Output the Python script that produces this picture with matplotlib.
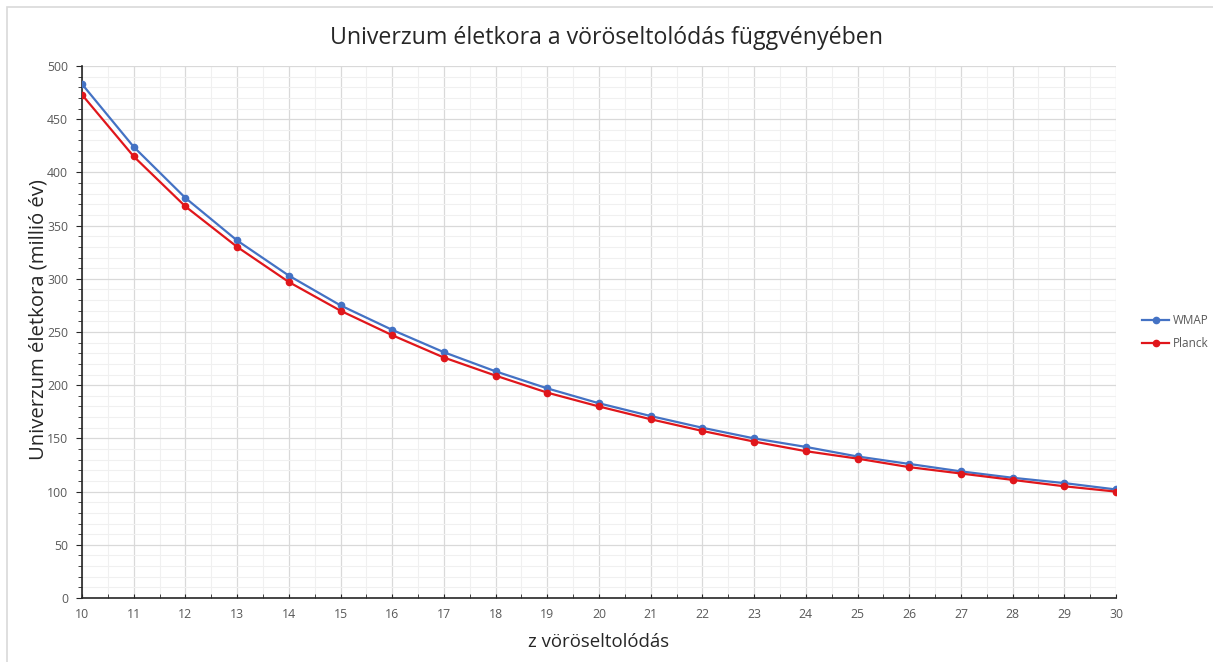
import matplotlib
matplotlib.use("Agg")
import matplotlib.pyplot as plt
from matplotlib.ticker import MultipleLocator
from matplotlib.patches import Rectangle

z = list(range(10, 31))
wmap = [483, 424, 376, 336, 303, 275, 252, 231, 213, 197, 183, 171, 160, 150, 142, 133, 126, 119, 113, 108, 102]
planck = [473, 415, 368, 330, 297, 270, 247, 226, 209, 193, 180, 168, 157, 147, 138, 131, 123, 117, 111, 105, 100]

title = "Univerzum életkora a vöröseltolódás függvényében"
xlabel = "z vöröseltolódás"
ylabel = "Univerzum életkora (millió év)"

plt.rcParams['font.family'] = ['Open Sans', 'DejaVu Sans']

W, H = 1213, 662
fig = plt.figure(figsize=(W / 100, H / 100), dpi=100)
fig.patch.set_facecolor('white')

# outer border
fig.patches.append(Rectangle((7 / W, -0.05), 1.1, 1 - 7 / H + 0.05, transform=fig.transFigure,
                             fill=False, edgecolor='#d9d9d9', linewidth=1.2))

ax = fig.add_axes([82 / W, 1 - 598 / H, (1116 - 82) / W, (598 - 66) / H])

blue = '#4472C4'
red = '#E0161B'
ax.plot(z, wmap, color=blue, marker='o', markersize=4.5, linewidth=1.6, label='WMAP', zorder=3)
ax.plot(z, planck, color=red, marker='o', markersize=4.5, linewidth=1.6, label='Planck', zorder=3)

ax.set_xlim(10, 30)
ax.set_ylim(0, 500)
ax.xaxis.set_major_locator(MultipleLocator(1))
ax.xaxis.set_minor_locator(MultipleLocator(0.5))
ax.yaxis.set_major_locator(MultipleLocator(50))
ax.yaxis.set_minor_locator(MultipleLocator(10))

ax.grid(which='major', color='#d9d9d9', linewidth=0.9)
ax.grid(which='minor', color='#f0f0f0', linewidth=0.8)
ax.set_axisbelow(True)

for s in ['top', 'right']:
    ax.spines[s].set_visible(False)
for s in ['left', 'bottom']:
    ax.spines[s].set_color('#262626')
    ax.spines[s].set_linewidth(1.2)

ax.tick_params(axis='x', which='both', direction='in', length=3, color='#262626',
               labelsize=8.8, labelcolor='#595959', pad=7)
ax.tick_params(axis='y', which='major', direction='out', length=4, color='#262626',
               labelsize=8.8, labelcolor='#595959', pad=6)
ax.tick_params(axis='y', which='minor', direction='out', length=3, color='#262626')

ax.set_xlabel(xlabel, fontsize=13.4, color='#262626', labelpad=9)
ax.set_ylabel(ylabel, fontsize=14.6, color='#262626', labelpad=-1)
ax.yaxis.label.set_y(0.5226)
fig.text(0.5, 1 - 38 / H, title, ha='center', va='center', fontsize=16.7, color='#262626')

leg = ax.legend(loc='center left', bbox_to_anchor=(1.015, 0.5), frameon=False,
                fontsize=8.5, labelcolor='#595959', handlelength=2.3, handletextpad=0.3,
                labelspacing=0.9)

fig.savefig('out.png', dpi=100)
